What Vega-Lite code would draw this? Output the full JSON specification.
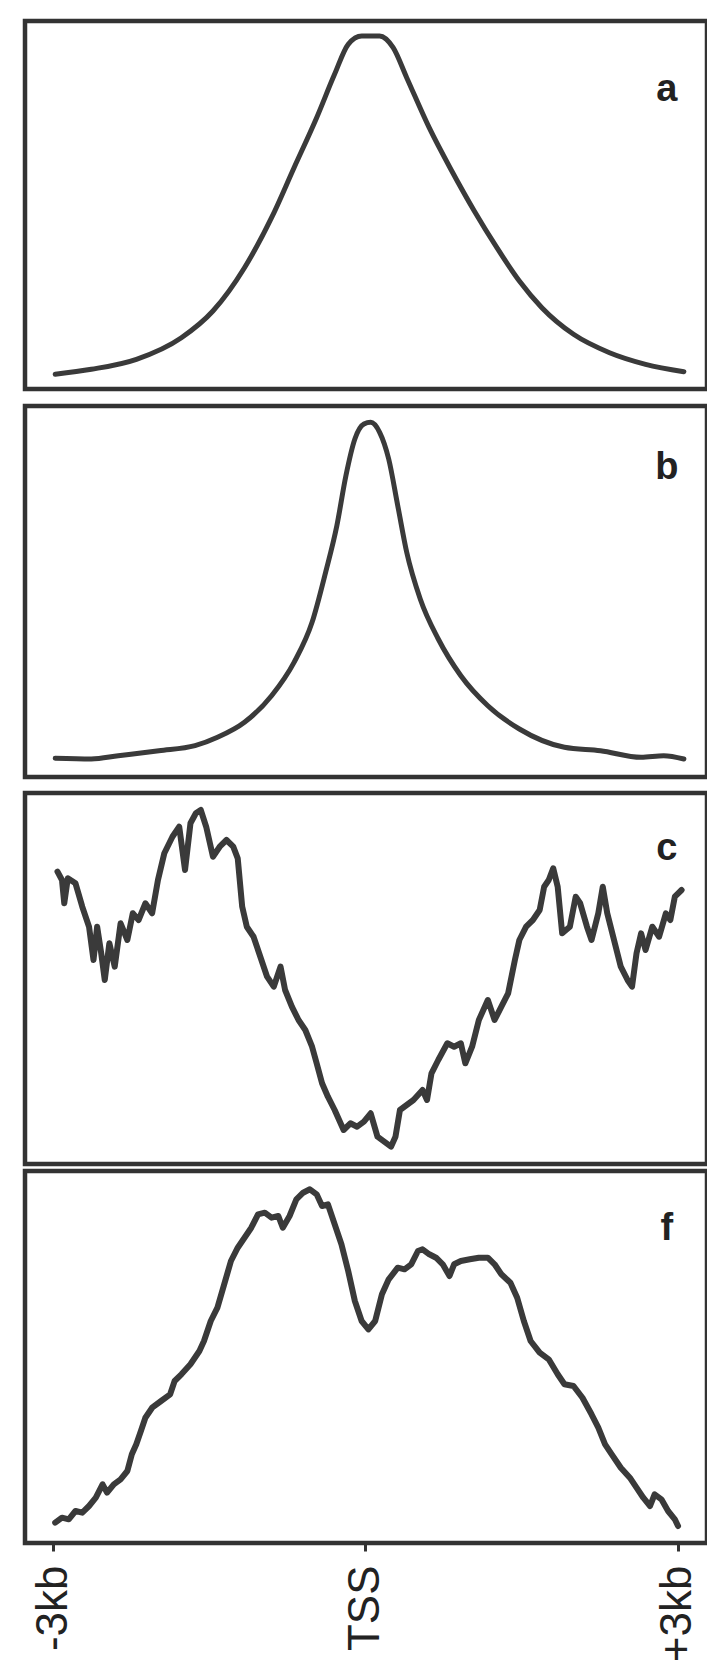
{
  "$schema": "https://vega.github.io/schema/vega-lite/v6.json",
  "background": "white",
  "padding": {"left": 22, "top": 18, "right": 0, "bottom": 0},
  "config": {
    "view": {"stroke": "#333333", "strokeWidth": 4.5},
    "line": {"color": "#3a3a3a", "strokeWidth": 5, "strokeCap": "round", "strokeJoin": "round"},
    "text": {"font": "Liberation Sans", "fontSize": 38, "fontWeight": "bold", "color": "#222222", "align": "center", "baseline": "alphabetic"}
  },
  "datasets": {
    "a": [
      {"x": -2980, "v": 14.7}, {"x": -2633, "v": 19.7}, {"x": -2200, "v": 29.7}, {"x": -1768, "v": 51.3},
      {"x": -1465, "v": 78}, {"x": -1162, "v": 121.3}, {"x": -902, "v": 171.3}, {"x": -686, "v": 221.3},
      {"x": -469, "v": 271.3}, {"x": -297, "v": 314.7}, {"x": -166, "v": 344.7}, {"x": -36, "v": 353},
      {"x": 136, "v": 353}, {"x": 266, "v": 341.3}, {"x": 396, "v": 311.3}, {"x": 612, "v": 261.3},
      {"x": 829, "v": 218}, {"x": 1045, "v": 178}, {"x": 1262, "v": 141.3}, {"x": 1478, "v": 108},
      {"x": 1694, "v": 81.3}, {"x": 1998, "v": 54.7}, {"x": 2344, "v": 36.3}, {"x": 2690, "v": 24.7},
      {"x": 3058, "v": 17.3}
    ],
    "b": [
      {"x": -2980, "v": 18.7}, {"x": -2633, "v": 18}, {"x": -2374, "v": 21.3}, {"x": -1984, "v": 26.3},
      {"x": -1637, "v": 31.3}, {"x": -1421, "v": 39.7}, {"x": -1162, "v": 54.7}, {"x": -902, "v": 81.3},
      {"x": -686, "v": 114.7}, {"x": -513, "v": 154.7}, {"x": -383, "v": 204.7}, {"x": -275, "v": 251.3},
      {"x": -188, "v": 301.3}, {"x": -102, "v": 338}, {"x": -15, "v": 353}, {"x": 50, "v": 354.7},
      {"x": 136, "v": 344.7}, {"x": 223, "v": 318}, {"x": 310, "v": 271.3}, {"x": 396, "v": 224.7},
      {"x": 526, "v": 178}, {"x": 699, "v": 138}, {"x": 916, "v": 101.3}, {"x": 1175, "v": 71.3},
      {"x": 1478, "v": 48}, {"x": 1911, "v": 29.7}, {"x": 2257, "v": 26.3}, {"x": 2647, "v": 19.7},
      {"x": 2864, "v": 21.3}, {"x": 3058, "v": 18}
    ],
    "c": [
      {"x": -2958, "v": 292.3}, {"x": -2915, "v": 284}, {"x": -2893, "v": 260.7}, {"x": -2859, "v": 285.7},
      {"x": -2785, "v": 280.7}, {"x": -2720, "v": 257.3}, {"x": -2655, "v": 237.3}, {"x": -2612, "v": 204},
      {"x": -2577, "v": 237.3}, {"x": -2538, "v": 210.7}, {"x": -2504, "v": 184}, {"x": -2460, "v": 220.7},
      {"x": -2408, "v": 197.3}, {"x": -2352, "v": 240.7}, {"x": -2287, "v": 224}, {"x": -2235, "v": 250.7},
      {"x": -2179, "v": 244}, {"x": -2114, "v": 260.7}, {"x": -2049, "v": 250.7}, {"x": -1993, "v": 284},
      {"x": -1932, "v": 310.7}, {"x": -1854, "v": 327.3}, {"x": -1789, "v": 337.3}, {"x": -1733, "v": 294},
      {"x": -1681, "v": 340.7}, {"x": -1629, "v": 350.7}, {"x": -1582, "v": 354}, {"x": -1530, "v": 337.3},
      {"x": -1465, "v": 307.3}, {"x": -1400, "v": 317.3}, {"x": -1335, "v": 324}, {"x": -1270, "v": 317.3},
      {"x": -1227, "v": 305.7}, {"x": -1184, "v": 257.3}, {"x": -1140, "v": 237.3}, {"x": -1075, "v": 227.3},
      {"x": -1010, "v": 207.3}, {"x": -945, "v": 187.3}, {"x": -881, "v": 177.3}, {"x": -816, "v": 197.3},
      {"x": -772, "v": 174}, {"x": -707, "v": 157.3}, {"x": -643, "v": 144}, {"x": -578, "v": 134},
      {"x": -513, "v": 117.3}, {"x": -469, "v": 100.7}, {"x": -417, "v": 80.7}, {"x": -361, "v": 67.3},
      {"x": -296, "v": 54}, {"x": -210, "v": 34}, {"x": -145, "v": 40.7}, {"x": -80, "v": 37.3},
      {"x": -15, "v": 42.3}, {"x": 50, "v": 50.7}, {"x": 115, "v": 27.3}, {"x": 180, "v": 22.3},
      {"x": 245, "v": 17.3}, {"x": 288, "v": 27.3}, {"x": 331, "v": 54}, {"x": 396, "v": 59},
      {"x": 461, "v": 64}, {"x": 548, "v": 74}, {"x": 591, "v": 64}, {"x": 634, "v": 90.7},
      {"x": 699, "v": 104}, {"x": 786, "v": 120.7}, {"x": 851, "v": 117.3}, {"x": 916, "v": 120.7},
      {"x": 959, "v": 100.7}, {"x": 1024, "v": 117.3}, {"x": 1089, "v": 144}, {"x": 1175, "v": 164},
      {"x": 1240, "v": 144}, {"x": 1305, "v": 157.3}, {"x": 1370, "v": 170.7}, {"x": 1435, "v": 204},
      {"x": 1478, "v": 224}, {"x": 1543, "v": 237.3}, {"x": 1608, "v": 244}, {"x": 1673, "v": 254},
      {"x": 1716, "v": 277.3}, {"x": 1760, "v": 284}, {"x": 1803, "v": 295.7}, {"x": 1846, "v": 277.3},
      {"x": 1889, "v": 230.7}, {"x": 1963, "v": 237.3}, {"x": 2019, "v": 267.3}, {"x": 2062, "v": 260.7},
      {"x": 2127, "v": 237.3}, {"x": 2171, "v": 224}, {"x": 2236, "v": 250.7}, {"x": 2279, "v": 277.3},
      {"x": 2322, "v": 250.7}, {"x": 2387, "v": 224}, {"x": 2452, "v": 197.3}, {"x": 2517, "v": 184},
      {"x": 2560, "v": 177.3}, {"x": 2603, "v": 210.7}, {"x": 2647, "v": 230.7}, {"x": 2690, "v": 214},
      {"x": 2755, "v": 237.3}, {"x": 2820, "v": 227.3}, {"x": 2885, "v": 250.7}, {"x": 2928, "v": 244},
      {"x": 2971, "v": 267.3}, {"x": 3036, "v": 274}
    ],
    "f": [
      {"x": -2980, "v": 20.3}, {"x": -2915, "v": 25.3}, {"x": -2850, "v": 23.7}, {"x": -2785, "v": 32},
      {"x": -2720, "v": 30.3}, {"x": -2655, "v": 37}, {"x": -2590, "v": 45.3}, {"x": -2525, "v": 58.7},
      {"x": -2482, "v": 50.3}, {"x": -2417, "v": 58.7}, {"x": -2352, "v": 63.7}, {"x": -2287, "v": 72},
      {"x": -2244, "v": 88.7}, {"x": -2201, "v": 98.7}, {"x": -2157, "v": 112}, {"x": -2114, "v": 125.3},
      {"x": -2049, "v": 135.3}, {"x": -1963, "v": 142}, {"x": -1876, "v": 148.7}, {"x": -1833, "v": 162},
      {"x": -1768, "v": 168.7}, {"x": -1681, "v": 178.7}, {"x": -1595, "v": 192}, {"x": -1551, "v": 202},
      {"x": -1486, "v": 222}, {"x": -1422, "v": 235.3}, {"x": -1357, "v": 258.7}, {"x": -1292, "v": 282},
      {"x": -1227, "v": 295.3}, {"x": -1162, "v": 305.3}, {"x": -1097, "v": 315.3}, {"x": -1032, "v": 328.7},
      {"x": -967, "v": 330.3}, {"x": -902, "v": 325.3}, {"x": -837, "v": 327}, {"x": -794, "v": 315.3},
      {"x": -729, "v": 327}, {"x": -664, "v": 343.7}, {"x": -599, "v": 350.3}, {"x": -534, "v": 353.7},
      {"x": -469, "v": 348.7}, {"x": -417, "v": 337}, {"x": -361, "v": 338.7}, {"x": -296, "v": 318.7},
      {"x": -231, "v": 298.7}, {"x": -166, "v": 272}, {"x": -102, "v": 242}, {"x": -37, "v": 222},
      {"x": 28, "v": 213.7}, {"x": 93, "v": 222}, {"x": 158, "v": 248.7}, {"x": 223, "v": 263.7},
      {"x": 310, "v": 275.3}, {"x": 375, "v": 273.7}, {"x": 439, "v": 278.7}, {"x": 504, "v": 292},
      {"x": 548, "v": 293.7}, {"x": 613, "v": 288.7}, {"x": 678, "v": 285.3}, {"x": 742, "v": 278.7},
      {"x": 807, "v": 267}, {"x": 851, "v": 278.7}, {"x": 916, "v": 282}, {"x": 1002, "v": 283.7},
      {"x": 1089, "v": 285.3}, {"x": 1175, "v": 285.3}, {"x": 1240, "v": 278.7}, {"x": 1305, "v": 268.7},
      {"x": 1392, "v": 260.3}, {"x": 1457, "v": 245.3}, {"x": 1521, "v": 222}, {"x": 1586, "v": 202},
      {"x": 1673, "v": 190.3}, {"x": 1760, "v": 183.7}, {"x": 1846, "v": 168.7}, {"x": 1911, "v": 158.7},
      {"x": 1998, "v": 157}, {"x": 2084, "v": 145.3}, {"x": 2171, "v": 128.7}, {"x": 2236, "v": 115.3},
      {"x": 2301, "v": 98.7}, {"x": 2365, "v": 88.7}, {"x": 2452, "v": 75.3}, {"x": 2539, "v": 65.3},
      {"x": 2603, "v": 55.3}, {"x": 2668, "v": 45.3}, {"x": 2733, "v": 37}, {"x": 2777, "v": 48.7},
      {"x": 2842, "v": 43.7}, {"x": 2906, "v": 32}, {"x": 2971, "v": 23.7}, {"x": 3002, "v": 17}
    ]
  },
  "spacing": 11,
  "vconcat": [
    {
      "width": 682, "height": 368,
      "layer": [
        {
          "data": {"name": "a"},
          "mark": {"type": "line", "interpolate": "monotone"},
          "encoding": {
            "x": {"field": "x", "type": "quantitative", "scale": {"domain": [-3270, 3280], "nice": false, "zero": false}, "axis": null},
            "y": {"field": "v", "type": "quantitative", "scale": {"domain": [0, 368], "nice": false, "zero": false}, "axis": null}
          }
        },
        {
          "data": {"values": [{"x": 2894, "v": 288, "label": "a"}]},
          "mark": {"type": "text"},
          "encoding": {
            "x": {"field": "x", "type": "quantitative"},
            "y": {"field": "v", "type": "quantitative"},
            "text": {"field": "label"}
          }
        }
      ]
    },
    {
      "spacing": 10,
      "vconcat": [
        {
          "width": 682, "height": 371,
          "layer": [
            {
              "data": {"name": "b"},
              "mark": {"type": "line", "interpolate": "monotone"},
              "encoding": {
                "x": {"field": "x", "type": "quantitative", "scale": {"domain": [-3270, 3280], "nice": false, "zero": false}, "axis": null},
                "y": {"field": "v", "type": "quantitative", "scale": {"domain": [0, 371], "nice": false, "zero": false}, "axis": null}
              }
            },
            {
              "data": {"values": [{"x": 2894, "v": 298, "label": "b"}]},
              "mark": {"type": "text"},
              "encoding": {
                "x": {"field": "x", "type": "quantitative"},
                "y": {"field": "v", "type": "quantitative"},
                "text": {"field": "label"}
              }
            }
          ]
        },
        {
          "spacing": 1,
          "vconcat": [
            {
              "width": 682, "height": 371,
              "layer": [
                {
                  "data": {"name": "c"},
                  "mark": {"type": "line", "strokeWidth": 6},
                  "encoding": {
                    "x": {"field": "x", "type": "quantitative", "scale": {"domain": [-3270, 3280], "nice": false, "zero": false}, "axis": null},
                    "y": {"field": "v", "type": "quantitative", "scale": {"domain": [0, 371], "nice": false, "zero": false}, "axis": null}
                  }
                },
                {
                  "data": {"values": [{"x": 2894, "v": 304, "label": "c"}]},
                  "mark": {"type": "text"},
                  "encoding": {
                    "x": {"field": "x", "type": "quantitative"},
                    "y": {"field": "v", "type": "quantitative"},
                    "text": {"field": "label"}
                  }
                }
              ]
            },
            {
              "width": 682, "height": 372,
              "layer": [
                {
                  "data": {"name": "f"},
                  "mark": {"type": "line", "strokeWidth": 6},
                  "encoding": {
                    "x": {"field": "x", "type": "quantitative", "scale": {"domain": [-3270, 3280], "nice": false, "zero": false},
                      "axis": {
                        "values": [-3000, 0, 3000],
                        "labelExpr": "datum.value == 0 ? 'TSS' : (datum.value < 0 ? '-3kb' : '+3kb')",
                        "labelAngle": -90, "labelFont": "Liberation Sans", "labelFontSize": 44, "labelColor": "#222222",
                        "labelPadding": 14, "labelOverlap": false, "labelFlush": false, "labelBound": false,
                        "tickSize": 8, "tickWidth": 3, "tickColor": "#333333",
                        "domain": false, "grid": false, "title": null
                      }
                    },
                    "y": {"field": "v", "type": "quantitative", "scale": {"domain": [0, 372], "nice": false, "zero": false}, "axis": null}
                  }
                },
                {
                  "data": {"values": [{"x": 2894, "v": 303, "label": "f"}]},
                  "mark": {"type": "text"},
                  "encoding": {
                    "x": {"field": "x", "type": "quantitative"},
                    "y": {"field": "v", "type": "quantitative"},
                    "text": {"field": "label"}
                  }
                }
              ]
            }
          ]
        }
      ]
    }
  ]
}
